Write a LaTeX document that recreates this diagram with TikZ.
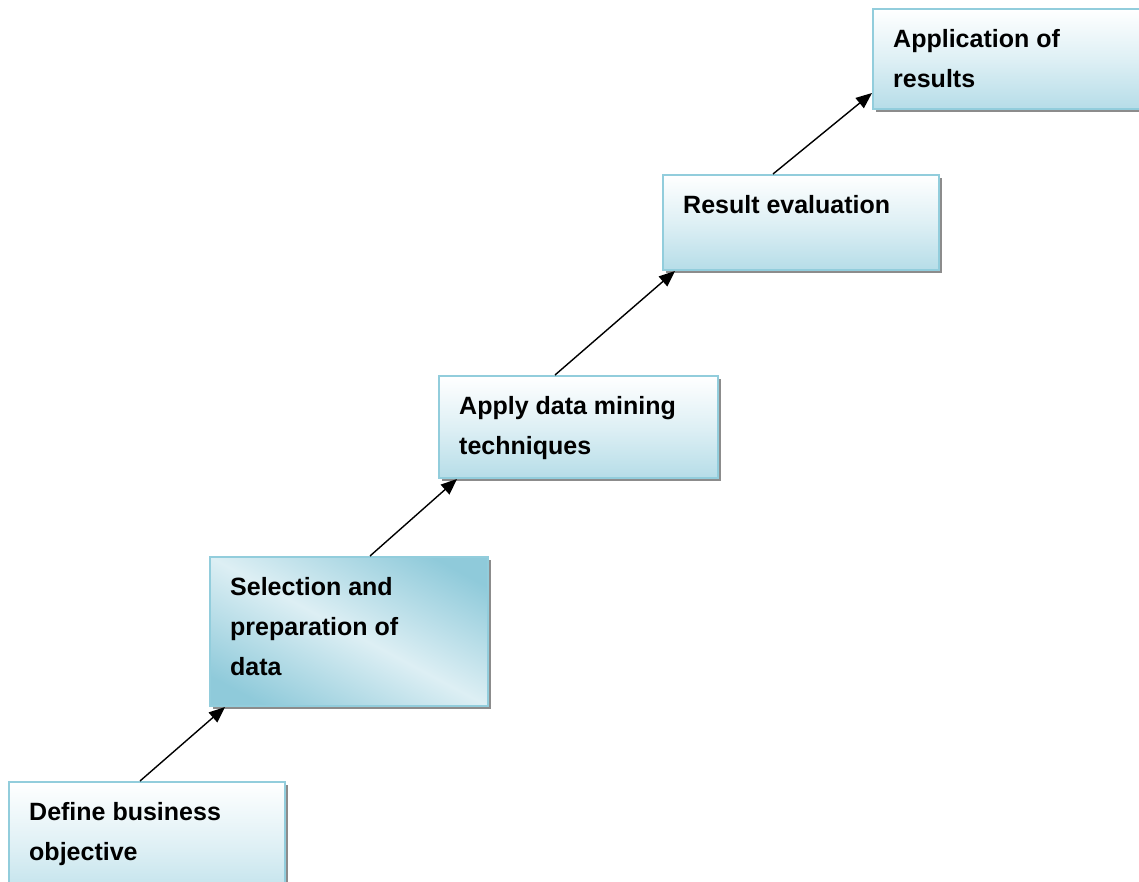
\documentclass[tikz,border=0pt]{standalone}
\usepackage{fontspec}
\setmainfont{Liberation Sans}
\usetikzlibrary{arrows.meta,calc,shadows}
\definecolor{bluebot}{HTML}{B6DDE8}
\definecolor{blueedge}{HTML}{92CDDC}
\pgfdeclarefunctionalshading{diagband}{\pgfpointorigin}{\pgfpoint{100bp}{100bp}}{}{
  add 100 sub abs 50 div 1.25 mul dup 1 gt {pop 1} if
  dup dup
  0.306 mul neg 0.867 add
  3 1 roll
  0.145 mul neg 0.937 add
  exch
  0.102 mul neg 0.957 add
}
\tikzset{
  stepbox/.style={draw=blueedge, line width=2pt, rectangle, inner sep=0pt,
    anchor=north west,
    general shadow={fill=gray!90, shadow xshift=3pt, shadow yshift=-3pt},
    top color=white, bottom color=bluebot, middle color=bluebot!45!white},
  lbl/.style={font=\bfseries\fontsize{25}{40}\selectfont, align=left, inner sep=0pt,
    anchor=north west, xshift=21pt, yshift=-21pt, text=black},
  conn/.style={line width=1.4pt, -{Triangle[length=16pt,width=13pt]}}
}
\begin{document}
\begin{tikzpicture}[x=1pt,y=-1pt]
\useasboundingbox (0,0) rectangle (1139,882);
\clip (0,0) rectangle (1139,882);
\node[stepbox, minimum width=276pt, minimum height=130pt,
  label={[lbl]north west:{Define business\\objective}}] (b1) at (8,781) {};
\node[stepbox, minimum width=278pt, minimum height=149pt, shading=diagband,
  label={[lbl]north west:{Selection and\\preparation of\\data}}] (b2) at (209,556) {};
\node[stepbox, minimum width=279pt, minimum height=102pt,
  label={[lbl]north west:{Apply data mining\\techniques}}] (b3) at (438,375) {};
\node[stepbox, minimum width=276pt, minimum height=95pt,
  label={[lbl]north west:{Result evaluation}}] (b4) at (662,174) {};
\node[stepbox, minimum width=300pt, minimum height=100pt,
  label={[lbl]north west:{Application of\\results}}] (b5) at (872,8) {};
\draw[conn] ($(b1.north west)+(132,0)$) -- ($(b2.south west)+(16,0)$);
\draw[conn] ($(b2.north west)+(161,0)$) -- ($(b3.south west)+(19,0)$);
\draw[conn] ($(b3.north west)+(117,0)$) -- ($(b4.south west)+(13,0)$);
\draw[conn] ($(b4.north west)+(111,0)$) -- ($(b5.north west)+(0,85)$);
\end{tikzpicture}
\end{document}
